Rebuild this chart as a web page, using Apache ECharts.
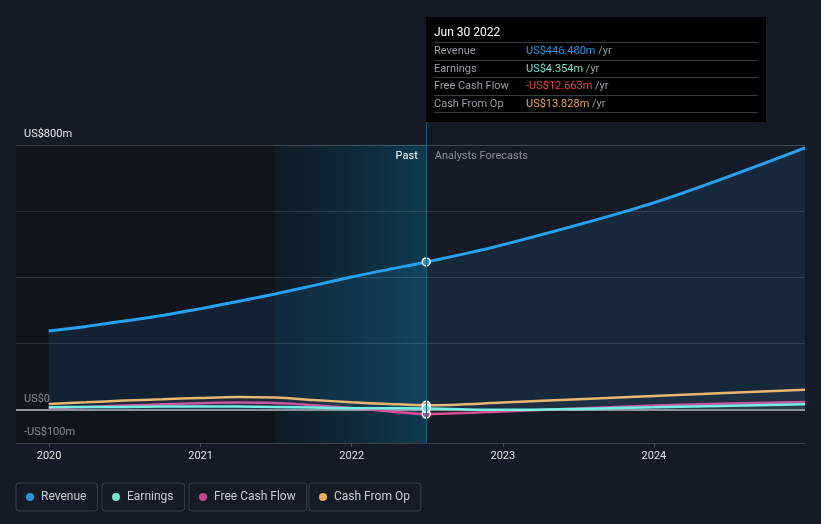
<!DOCTYPE html>
<html>
<head>
<meta charset="utf-8">
<script src="https://cdn.jsdelivr.net/npm/echarts@6/dist/echarts.min.js"></script>
<style>
html,body{margin:0;padding:0;background:#151b26;}
#c{width:821px;height:524px;}
</style>
</head>
<body>
<div id="c"></div>
<script>
// ---- data ----
var dates = ['2019-12-31','2020-03-31','2020-06-30','2020-09-30','2020-12-31','2021-03-31','2021-06-30','2021-09-30','2021-12-31','2022-03-31','2022-06-30','2022-12-31','2023-12-31','2024-12-31'];
var revenue = [238, 252, 268, 285, 305, 327, 350, 375, 401, 424, 446.48, 498, 625, 791];
var earnings = [8, 9, 9, 10, 10, 10, 9, 7, 5, 4.6, 4.354, 0, 8, 17];
var freeCashFlow = [4, 9, 13, 17, 20, 22, 21, 14, 6, -4, -12.663, -5, 13, 24];
var cashFromOp = [18, 23, 28, 32, 36, 39, 37, 30, 23, 18, 13.828, 22, 42, 61];
var seriesNames = ['Revenue', 'Earnings', 'Free Cash Flow', 'Cash From Op'];
var seriesColors = ['#2394df', '#6fe3d0', '#c8478a', '#e8a958'];
var yTickLabels = {800: 'US$800m', 0: 'US$0', '-100': '-US$100m'};
var gridValues = [200, 400, 600, 800];
var hoverDate = '2022-06-30';
var bandStart = '2021-06-30';
var axisMin = '2019-10-13';
var axisMax = '2024-12-31';

var hoverIndex = dates.indexOf(hoverDate);
var allValues = [revenue, earnings, freeCashFlow, cashFromOp];

function pairs(arr){ return dates.map(function(d,i){ return [d, arr[i]]; }); }
function fmtVal(v){
  var s = 'US$' + Math.abs(v).toFixed(3) + 'm';
  return (v < 0 ? '-' : '') + s;
}

var chart = echarts.init(document.getElementById('c'));

var series = seriesNames.map(function(name, k){
  var s = {
    name: name,
    type: 'line',
    data: pairs(allValues[k]),
    smooth: 0.3,
    showSymbol: false,
    symbol: 'circle',
    symbolSize: 8,
    lineStyle: {width: k === 0 ? 3 : 2.5, color: seriesColors[k]},
    itemStyle: {color: seriesColors[k], borderColor: '#ffffff', borderWidth: 1.5},
    areaStyle: k === 0 ? {color: 'rgba(35,148,223,0.15)'} : {color: 'rgba(150,150,150,0.09)'},
    emphasis: {disabled: false, scale: false, focus: 'none', lineStyle:{width: k === 0 ? 3 : 2.5}},
    z: 10 - k
  };
  if (k === 0) {
    s.markArea = {
      silent: true,
      data: [
        [{xAxis: axisMin, yAxis: 800, itemStyle: {color: 'rgba(10,13,18,0.45)'}},
         {xAxis: hoverDate, yAxis: -100}],
        [{xAxis: bandStart, yAxis: 800, itemStyle: {color: new echarts.graphic.LinearGradient(0,0,1,0,[
            {offset: 0, color: 'rgba(12,70,95,0.15)'},
            {offset: 1, color: 'rgba(12,90,120,0.55)'}])}},
         {xAxis: hoverDate, yAxis: -100}]
      ]
    };
    s.markLine = {
      silent: true,
      symbol: 'none',
      label: {show: false},
      lineStyle: {type: 'solid', color: 'rgba(255,255,255,0.12)', width: 1},
      data: gridValues.map(function(v){ return {yAxis: v, lineStyle: v === 800 ? {color: 'rgba(255,255,255,0.2)', type:'solid', width:1} : undefined}; })
        .concat([{yAxis: 0, lineStyle: {color: '#b9bcc0', width: 1.5, type: 'solid'}}])
    };
    s.markPoint = {
      silent: true,
      symbol: 'rect',
      symbolSize: 1,
      itemStyle: {color: 'rgba(0,0,0,0)'},
      data: [
        {coord: [hoverDate, 800], label: {show: true, formatter: 'Past', position: 'left', distance: 8, offset: [0, 11], color: '#ffffff', fontSize: 11}},
        {coord: [hoverDate, 800], label: {show: true, formatter: 'Analysts Forecasts', position: 'right', distance: 8, offset: [0, 11], color: '#8a8f97', fontSize: 11}}
      ]
    };
  }
  return s;
});

var legends = seriesNames.map(function(name, k){
  var lefts = [16, 102, 189, 309];
  return {
    data: [name],
    left: lefts[k],
    top: 483,
    icon: 'circle',
    itemWidth: 12,
    itemHeight: 8,
    itemGap: 0,
    padding: [8, 11, 8, 10],
    borderColor: '#3b4049',
    borderWidth: 1,
    borderRadius: 3,
    selectedMode: false,
    itemStyle: {borderWidth: 0},
    textStyle: {color: '#c9ccd1', fontSize: 12, fontFamily: 'Roboto'}
  };
});

var option = {
  animation: false,
  backgroundColor: '#151b26',
  textStyle: {fontFamily: 'Roboto'},
  color: seriesColors,
  grid: {left: 16, right: 16, top: 120, bottom: 81, containLabel: false},
  legend: legends,
  tooltip: {
    trigger: 'axis',
    triggerOn: 'none',
    alwaysShowContent: true,
    position: function(){ return [426, 17]; },
    backgroundColor: '#000000',
    borderWidth: 0,
    padding: 0,
    extraCssText: 'box-shadow:none;border-radius:0;',
    axisPointer: {type: 'line', lineStyle: {color: '#1c5c72', width: 1, type: 'solid'}, label: {show: false}},
    formatter: function(params){
      var i = params[0].dataIndex;
      var d = new Date(dates[i] + 'T00:00:00');
      var months = ['Jan','Feb','Mar','Apr','May','Jun','Jul','Aug','Sep','Oct','Nov','Dec'];
      var title = months[d.getMonth()] + ' ' + ('0' + d.getDate()).slice(-2) + ' ' + d.getFullYear();
      var valColors = ['#2394df', '#6fe3d0', '#e84545', '#e8a958'];
      var h = '<div style="width:324px;padding:6px 8px 9px 8px;font-family:Roboto;">';
      h += '<div style="color:#fff;font-size:12px;line-height:18px;height:19px;border-bottom:1px solid #3a3d42;">' + title + '</div>';
      for (var k = 0; k < seriesNames.length; k++) {
        var v = allValues[k][i];
        var vc = (k === 2 && v < 0) ? '#e84545' : valColors[k];
        h += '<div style="font-size:11px;line-height:16.5px;height:16.5px;border-bottom:1px solid #3a3d42;">' +
             '<span style="display:inline-block;width:92px;color:#9a9ea5;">' + seriesNames[k] + '</span>' +
             '<span style="color:' + vc + ';">' + fmtVal(v) + '</span>' +
             '<span style="color:#9a9ea5;"> /yr</span></div>';
      }
      h += '</div>';
      return h;
    }
  },
  xAxis: {
    type: 'time',
    min: axisMin,
    max: axisMax,
    minInterval: 365 * 24 * 3600 * 1000,
    splitLine: {show: false},
    axisLine: {show: true, onZero: false, lineStyle: {color: '#3b4049', width: 1}},
    axisTick: {show: true, length: 4, lineStyle: {color: '#4a4f57'}},
    axisLabel: {color: '#e0e2e5', fontSize: 11, margin: 8, formatter: '{yyyy}'}
  },
  yAxis: {
    type: 'value',
    min: -100,
    max: 875,
    interval: 100,
    splitLine: {show: false},
    axisLine: {show: false},
    axisTick: {show: false},
    axisLabel: {
      inside: true,
      margin: 8,
      color: '#e6e8eb',
      fontSize: 11,
      verticalAlign: 'bottom',
      padding: [0, 0, 5, 0],
      formatter: function(v){ return yTickLabels[v] !== undefined ? yTickLabels[v] : ''; }
    }
  },
  series: series
};

chart.setOption(option);
chart.dispatchAction({type: 'showTip', seriesIndex: 0, dataIndex: hoverIndex});
</script>
</body>
</html>
